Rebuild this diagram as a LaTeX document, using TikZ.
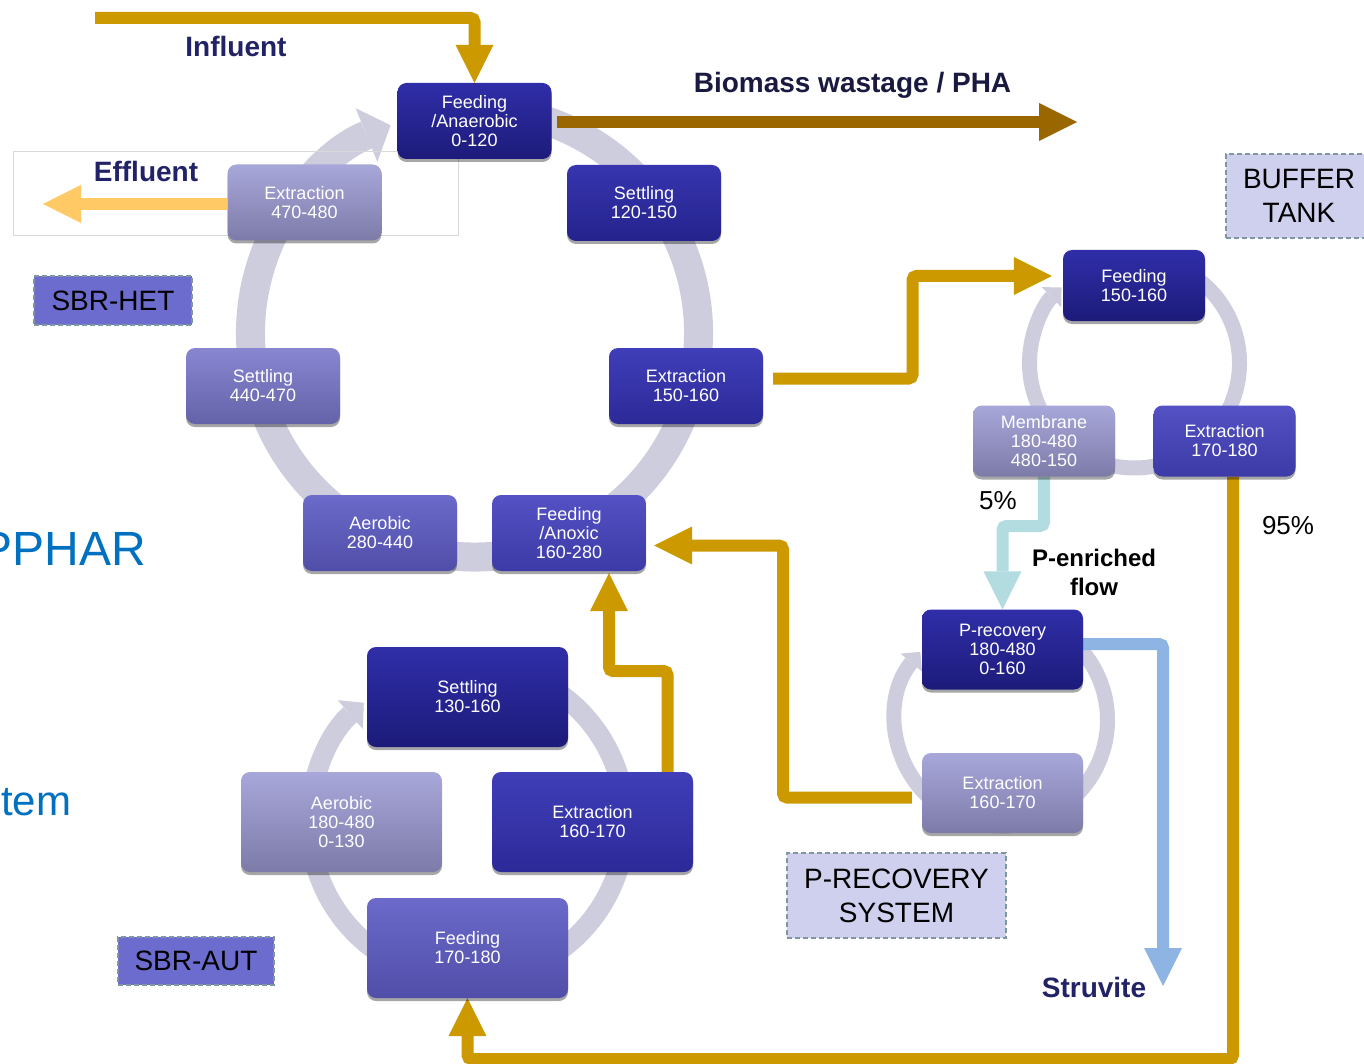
\documentclass[tikz,border=0pt]{standalone}
\usepackage{fontspec}
\setmainfont{Liberation Sans}
\usetikzlibrary{arrows.meta,shadows,calc}

\definecolor{flowgold}{RGB}{204,153,0}
\definecolor{flowbrown}{RGB}{153,102,0}
\definecolor{flowpeach}{RGB}{255,201,102}
\definecolor{flowteal}{RGB}{178,220,224}
\definecolor{flowsky}{RGB}{141,180,226}
\definecolor{ringgrey}{RGB}{205,205,222}
\definecolor{labelnavy}{RGB}{34,34,102}
\definecolor{darknavy}{RGB}{26,26,64}
\definecolor{titleblue}{RGB}{0,112,192}
\definecolor{tagviolet}{RGB}{108,108,207}
\definecolor{taglilac}{RGB}{207,207,238}
\definecolor{tagedge}{RGB}{128,150,160}
\definecolor{framegrey}{RGB}{217,217,217}
% stage box tones, darkest to lightest
\definecolor{tAtop}{RGB}{48,46,168}   \definecolor{tAbot}{RGB}{28,27,122}
\definecolor{tBtop}{RGB}{55,53,175}   \definecolor{tBbot}{RGB}{36,35,140}
\definecolor{tCtop}{RGB}{64,62,184}   \definecolor{tCbot}{RGB}{44,42,152}
\definecolor{tDtop}{RGB}{84,82,196}   \definecolor{tDbot}{RGB}{60,58,166}
\definecolor{tEtop}{RGB}{108,106,202} \definecolor{tEbot}{RGB}{80,78,168}
\definecolor{tFtop}{RGB}{136,134,208} \definecolor{tFbot}{RGB}{100,98,168}
\definecolor{tGtop}{RGB}{168,167,218} \definecolor{tGbot}{RGB}{124,123,168}

\pgfdeclarelayer{back}
\pgfsetlayers{back,main}

\tikzset{
  stage/.style={rounded corners=9pt, text=white, align=center, inner sep=0pt,
    font=\fontsize{18}{19}\selectfont,
    drop shadow={shadow xshift=0pt, shadow yshift=-3pt, opacity=0.35, fill=black}},
  hetbox/.style={stage, minimum width=154pt, minimum height=76pt},
  bufbox/.style={stage, minimum width=142pt, minimum height=71pt},
  recbox/.style={stage, minimum width=161pt, minimum height=80pt},
  autbox/.style={stage, minimum width=201pt, minimum height=100pt},
  toneA/.style={top color=tAtop, bottom color=tAbot},
  toneB/.style={top color=tBtop, bottom color=tBbot},
  toneC/.style={top color=tCtop, bottom color=tCbot},
  toneD/.style={top color=tDtop, bottom color=tDbot},
  toneE/.style={top color=tEtop, bottom color=tEbot},
  toneF/.style={top color=tFtop, bottom color=tFbot},
  toneG/.style={top color=tGtop, bottom color=tGbot},
  flow/.style={draw=#1, line width=12pt, rounded corners=4pt,
    -{Triangle[width=38pt,length=38pt,line width=0pt]}},
  cyclering/.style={draw=ringgrey, line width=#1},
  tagbox/.style={draw=tagedge, dash pattern=on 5pt off 3pt, line width=1.3pt,
    font=\fontsize{28}{34}\selectfont, align=center, inner sep=0pt},
  flowlabel/.style={anchor=base, inner sep=0pt, text=labelnavy,
    font=\bfseries\fontsize{28}{32}\selectfont},
  pct/.style={anchor=base, inner sep=0pt, font=\fontsize{26}{30}\selectfont}
}

\begin{document}
\begin{tikzpicture}[x=1pt,y=-1pt]
\useasboundingbox (0,0) rectangle (1364,1064);

% ---- SBR-HET cycle ----
\node[hetbox, toneA] (A1) at (474.5,121) {Feeding\\/Anaerobic\\0-120};
\node[hetbox, toneB] (A2) at (644,203) {Settling\\120-150};
\node[hetbox, toneC] (A3) at (686,386) {Extraction\\150-160};
\node[hetbox, toneD] (A4) at (569,533) {Feeding\\/Anoxic\\160-280};
\node[hetbox, toneE] (A5) at (380,533) {Aerobic\\280-440};
\node[hetbox, toneF] (A6) at (263,386) {Settling\\440-470};
\node[hetbox, toneG] (A7) at (304.5,202.5) {Extraction\\470-480};

% ---- buffer tank cycle ----
\node[bufbox, toneA] (B1) at (1134,285.5) {Feeding\\150-160};
\node[bufbox, toneG] (B2) at (1044,441) {Membrane\\180-480\\480-150};
\node[bufbox, toneD] (B3) at (1224.5,441) {Extraction\\170-180};

% ---- P-recovery cycle ----
\node[recbox, toneA] (P1) at (1002.5,649.5) {P-recovery\\180-480\\0-160};
\node[recbox, toneG] (P2) at (1002.5,793) {Extraction\\160-170};

% ---- SBR-AUT cycle ----
\node[autbox, toneA] (S1) at (467.5,697) {Settling\\130-160};
\node[autbox, toneC] (S2) at (592.5,822) {Extraction\\160-170};
\node[autbox, toneE] (S3) at (467.5,948) {Feeding\\170-180};
\node[autbox, toneG] (S4) at (341.5,822) {Aerobic\\180-480\\0-130};

% ---- unit tags ----
\node[tagbox, fill=tagviolet, minimum width=158pt, minimum height=49pt] (hettag) at (113,300.5) {SBR-HET};
\node[tagbox, fill=tagviolet, minimum width=156pt, minimum height=48pt] (auttag) at (196,961) {SBR-AUT};
\node[tagbox, fill=taglilac, minimum width=146pt, minimum height=84pt] (buftag) at (1299,196) {BUFFER\\TANK};
\node[tagbox, fill=taglilac, minimum width=219pt, minimum height=85pt] (rectag) at (896.5,895.5) {P-RECOVERY\\SYSTEM};

% ---- stream labels ----
\node[flowlabel] (influent) at (236,57) {Influent};
\node[flowlabel] (effluent) at (146,182) {Effluent};
\node[flowlabel, text=darknavy] (biomass) at (852.5,93) {Biomass wastage / PHA};
\node[flowlabel] (struvite) at (1094,997) {Struvite};
\node[pct] (five) at (998,509) {5\%};
\node[pct] (ninetyfive) at (1288,534.5) {95\%};
\node[font=\bfseries\fontsize{24}{29}\selectfont, align=center, inner sep=0pt] (penr) at (1094,572) {P-enriched\\flow};
\node[anchor=base east, inner sep=0pt, text=titleblue, font=\fontsize{48}{48}\selectfont] (pphar) at (146,565) {PPHAR};
\node[anchor=base west, inner sep=0pt, text=titleblue, font=\fontsize{42}{42}\selectfont] (tem) at (1,815) {tem};

\begin{pgfonlayer}{back}
  \fill[white] (0,0) rectangle (1364,1064);

  % cycle rings with their arrow heads
  \draw[cyclering=29pt, -{Triangle[width=58pt,length=26pt,line width=0pt]}]
    (474.5,333) ++(-75:224) arc[start angle=-75, end angle=248, radius=224];
  \draw[cyclering=15pt, -{Triangle[width=28pt,length=14pt,line width=0pt]}]
    (1134.5,363) ++(-55:105) arc[start angle=-55, end angle=226, radius=105];
  \draw[cyclering=15pt, -{Triangle[width=28pt,length=14pt,line width=0pt]}]
    (1001.5,720) ++(-50:106) arc[start angle=-50, end angle=220, radius=106];
  \draw[cyclering=20pt, -{Triangle[width=38pt,length=18pt,line width=0pt]}]
    (467.5,822) ++(-60:158) arc[start angle=-60, end angle=229, radius=158];

  % text frame around the effluent label
  \draw[framegrey, line width=1pt] (13,152) rectangle (458,236);

  % influent into the anaerobic feeding
  \coordinate (inflow) at (95,18);
  \draw[flow=flowgold] (inflow) -| (A1.north);

  % biomass wastage / PHA
  \coordinate (pha) at (1077,122);
  \draw[flow=flowbrown] ($(A1.east)+(5,1)$) -- (pha);

  % effluent
  \coordinate (effout) at (43,204);
  \draw[flow=flowpeach] (A7.west |- effout) -- (effout);

  % HET extraction to buffer feeding
  \coordinate (bend1) at (912.5,276);
  \draw[flow=flowgold] ($(A3.east)+(10,-7.5)$) -| (bend1) -- ($(B1.west)+(-11,-9.5)$);

  % 5% P-enriched flow
  \coordinate (bend2) at (1044,526);
  \draw[flow=flowteal] (B2.south) -- (bend2) -| (P1.north);

  % 95% to AUT feeding
  \coordinate (bend3) at (1233,1059);
  \draw[flow=flowgold] ($(B3.south)+(8.5,0)$) -- (bend3) -| (S3.south);

  % struvite
  \coordinate (struout) at (1163,986);
  \draw[flow=flowsky] ($(P1.east)+(0,-5.5)$) -| (struout);

  % P-recovery extraction back to anoxic feeding
  \coordinate (bend4) at (783,545.5);
  \draw[flow=flowgold] ($(P2.west)+(-10,4.5)$) -| (bend4) -- ($(A4.east)+(8,12.5)$);

  % AUT extraction to anoxic feeding
  \coordinate (bend5) at (667.5,671);
  \draw[flow=flowgold] (S2.north -| bend5) -- (bend5) -| ($(A4.south)+(40,2)$);
\end{pgfonlayer}
\end{tikzpicture}
\end{document}
